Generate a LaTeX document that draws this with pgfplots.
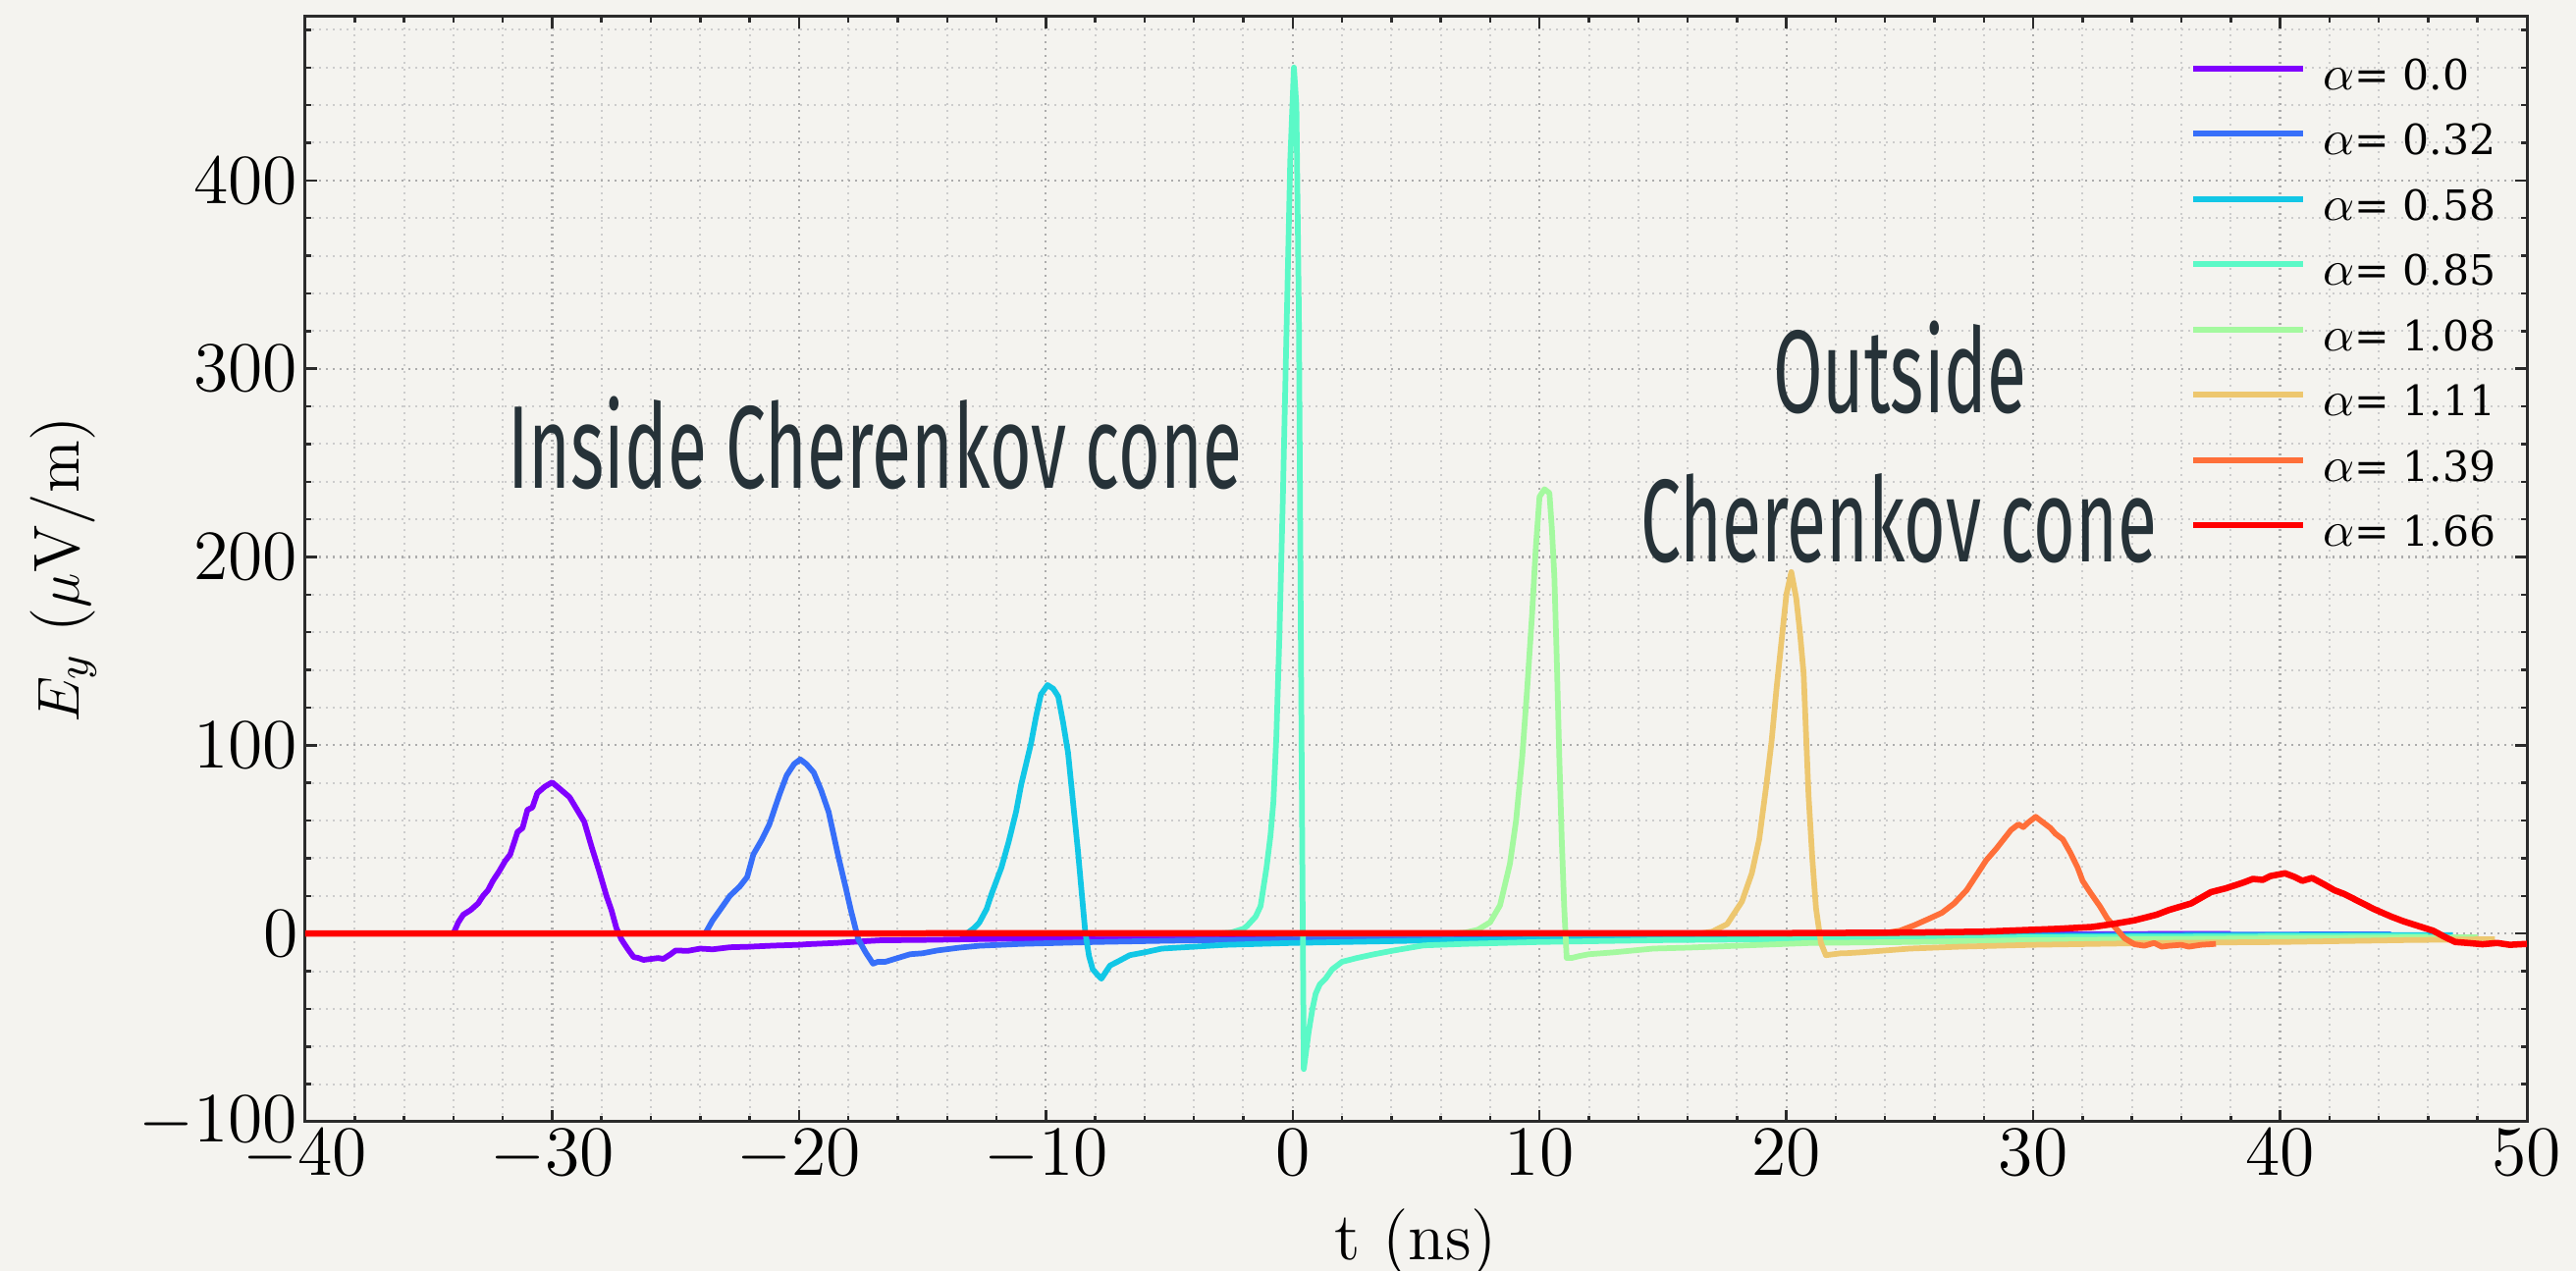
\documentclass[border=0pt]{standalone}
\usepackage{fontspec}
\usepackage{pgfplots}
\pgfplotsset{compat=1.18}
\usetikzlibrary{backgrounds}

\newfontfamily\annotfont[FakeStretch=0.61]{Fira Sans}
\newfontfamily\legfont{DejaVu Serif}

\definecolor{bgc}{HTML}{F4F3EF}
\definecolor{annotc}{HTML}{263238}
\definecolor{axc}{HTML}{2B2B2B}
% rainbow colormap sampled at eight equally spaced points
\definecolor{c0}{RGB}{128,0,255}
\definecolor{c1}{RGB}{55,111,249}
\definecolor{c2}{RGB}{18,199,230}
\definecolor{c3}{RGB}{91,249,199}
\definecolor{c4}{RGB}{164,249,159}
\definecolor{c5}{RGB}{237,199,111}
\definecolor{c6}{RGB}{255,111,57}
\definecolor{c7}{RGB}{255,0,0}

\newcommand\al{{\fontsize{10.4}{11}\selectfont$\alpha$}}

\begin{document}
\begin{tikzpicture}
\begin{axis}[
  scale only axis,
  width=452.6pt, height=225.2pt,
  xmin=-40, xmax=50, ymin=-100, ymax=487,
  xtick distance=10, ytick distance=100,
  minor tick num=4,
  tick align=inside,
  major tick length=2.4pt, minor tick length=1.2pt,
  every tick/.style={axc, line width=0.5pt},
  axis line style={axc, line width=0.6pt},
  grid=both,
  major grid style={densely dotted, gray!65, line width=0.45pt},
  minor grid style={densely dotted, gray!40, line width=0.4pt},
  tick label style={font=\fontsize{15.5}{18}\selectfont},
  xticklabel style={yshift=2pt},
  yticklabel style={xshift=2pt},
  xlabel={t (ns)},
  ylabel={$E_y$ ($\mu$V/m)},
  xlabel style={font=\fontsize{13.8}{16}\selectfont,
    at={(axis description cs:0.5,0)}, anchor=center, yshift=-24.6pt},
  ylabel style={font=\fontsize{13.2}{16}\selectfont,
    at={(axis description cs:-0.1087,0.5)}, anchor=center},
  legend style={draw=none, fill=none, at={(rel axis cs:0.848,0.966)}, anchor=north west,
    inner sep=0pt, row sep=4.3pt, column sep=3.4pt,
    font=\legfont\fontsize{8.5}{10}\selectfont,
    nodes={inner sep=0pt, text height=7pt, text depth=2pt}},
  legend cell align=left,
  legend image code/.code={\draw[#1] (0pt,1.8pt) -- (22.4pt,1.8pt);},
  every axis plot/.append style={line width=1.15pt, line join=round},
]

% alpha = 0.0
\addplot[c0] coordinates {
(-34.0,0) (-33.8,6) (-33.6,10) (-33.3,12.5) (-33.0,16) (-32.8,20) (-32.6,23)
(-32.4,28) (-32.15,33) (-31.9,38.6) (-31.7,42) (-31.4,54) (-31.2,56) (-31.0,65.7)
(-30.8,67) (-30.6,74.6) (-30.3,78) (-30.0,80.3) (-29.7,77) (-29.3,72.5) (-29.0,66)
(-28.7,59.4) (-28.4,46) (-28.1,33.4) (-27.8,20) (-27.6,12.5) (-27.4,3) (-27.2,-3)
(-26.95,-8) (-26.7,-12.5) (-26.5,-13) (-26.3,-14) (-26.0,-13.5) (-25.7,-13)
(-25.5,-13.5) (-25.2,-11) (-25.0,-9) (-24.5,-9.2) (-24.0,-8) (-23.5,-8.4)
(-22.8,-7.3) (-22,-7) (-21,-6.4) (-20,-6) (-19.7,-5.7) (-18.5,-5) (-17.5,-4.2)
(-16.7,-3.6) (-15,-3.4) (-12.9,-3) (-10,-2.5) (-5,-1.8) (0,-1.3) (10,-0.8)
(20,-0.5) (30,-0.3) (38,-0.2)
};
\addlegendentry{\al= 0.0}

% alpha = 0.32
\addplot[c1] coordinates {
(-23.8,0) (-23.5,7) (-23.2,12.5) (-22.8,20) (-22.4,25) (-22.1,30) (-21.85,42)
(-21.5,50) (-21.2,58) (-20.8,73.5) (-20.5,84) (-20.2,90) (-19.95,92.5) (-19.7,90)
(-19.4,85.5) (-19.1,76) (-18.8,64.6) (-18.4,40.6) (-18.1,24) (-17.9,12.5)
(-17.6,-3) (-17.3,-10) (-17.0,-16) (-16.8,-15) (-16.5,-15) (-16,-13) (-15.5,-11)
(-15,-10.5) (-14.4,-9) (-13.5,-7.5) (-12.7,-6.5) (-11,-5.5) (-8,-4.5) (-5,-3.8)
(0,-3) (5,-2.4) (10,-2) (20,-1.3) (30,-0.8) (44.5,-0.4)
};
\addlegendentry{\al= 0.32}

% alpha = 0.58
\addplot[c2] coordinates {
(-13.2,0) (-12.9,3) (-12.7,5.7) (-12.4,13) (-12.2,21) (-11.8,35) (-11.5,49)
(-11.2,65) (-11.0,79) (-10.8,90) (-10.6,101) (-10.4,115) (-10.2,127) (-9.93,132)
(-9.7,130) (-9.5,126) (-9.3,112) (-9.1,96) (-8.9,70) (-8.7,44) (-8.55,22)
(-8.4,0.5) (-8.25,-12) (-8.1,-19) (-7.9,-22) (-7.75,-24) (-7.6,-21) (-7.4,-17)
(-7.1,-15) (-6.6,-11.5) (-6.0,-10) (-5.3,-8) (-4,-7) (-2.7,-6) (0,-5) (5,-3.8)
(10,-3) (20,-2) (30,-1.4) (40,-1) (47,-0.8)
};
\addlegendentry{\al= 0.58}

% alpha = 0.85
\addplot[c3] coordinates {
(-8,0) (-3,0) (-2.5,0.5) (-2,2.5) (-1.85,4) (-1.5,9) (-1.3,14.6) (-1.06,35)
(-0.9,52) (-0.78,70) (-0.66,105) (-0.54,157) (-0.4,230) (-0.25,320) (-0.1,410)
(0.05,460) (0.15,440) (0.25,330) (0.33,160) (0.4,20) (0.45,-72) (0.55,-62)
(0.65,-52) (0.8,-40) (0.93,-32) (1.1,-27) (1.33,-24) (1.6,-19) (2.0,-15)
(2.6,-13) (3.3,-11) (4.1,-9) (5.3,-6.3) (7,-5.5) (10,-4.5) (15,-3.5) (20,-3)
(30,-2) (40,-1.5) (46,-1.3)
};
\addlegendentry{\al= 0.85}

% alpha = 1.08
\addplot[c4] coordinates {
(0,0) (6.5,0) (7,0.5) (7.5,2) (8.0,6) (8.4,15) (8.8,37) (9.05,60) (9.3,94)
(9.5,130) (9.7,170) (9.85,205) (10.0,232) (10.2,236) (10.4,234) (10.5,215)
(10.6,190) (10.7,145) (10.8,94) (10.9,50) (11.0,14) (11.1,-13) (11.3,-13)
(11.6,-12) (12.0,-11) (13,-10) (14.6,-8) (16,-7.5) (18,-6.5) (21,-5) (25,-4.5)
(30,-3.5) (40,-2.5) (48,-2)
};
\addlegendentry{\al= 1.08}

% alpha = 1.11
\addplot[c5] coordinates {
(10,0) (16.5,0) (17,1) (17.6,5) (18.2,17) (18.6,32) (18.9,50) (19.2,80)
(19.4,102) (19.6,130) (19.8,155) (20.0,180) (20.2,192) (20.4,178) (20.55,160)
(20.7,138) (20.8,105) (20.9,73) (21.05,40) (21.2,13.5) (21.4,-5) (21.6,-11.5)
(21.9,-11) (22.2,-10.5) (22.5,-10.4) (23,-10) (24,-9) (25,-8) (27,-7) (30,-6)
(35,-5) (40,-4.5) (45,-3.5) (48.7,-3)
};
\addlegendentry{\al= 1.11}

% alpha = 1.39
\addplot[c6] coordinates {
(20,0) (24.0,0.3) (24.6,1.5) (25.2,4.5) (25.8,8) (26.3,11) (26.8,16) (27.3,23)
(27.7,31) (28.1,39) (28.5,45) (28.8,50) (29.1,55) (29.4,58) (29.6,56.5)
(29.8,59) (30.1,62) (30.4,59) (30.7,56) (30.9,53) (31.2,50) (31.5,43) (31.8,35)
(32.0,28) (32.3,22) (32.7,14.5) (33.0,8) (33.4,2) (33.7,-2.5) (34.1,-5.7)
(34.5,-6.5) (34.9,-5) (35.2,-7) (35.5,-6.5) (36,-6) (36.3,-7) (36.8,-6) (37.4,-5.5)
};
\addlegendentry{\al= 1.39}

% alpha = 1.66
\addplot[c7, line width=1.3pt] coordinates {
(-40,0) (20,0.2) (25,0.5) (28,1) (30,2) (31,2.5) (32.4,3.5) (33.2,5) (34.1,7)
(35,10) (35.5,12.5) (36.4,16) (37.2,22) (37.8,24) (38.5,27) (38.9,29)
(39.3,28.5) (39.6,30.5) (40.2,32) (40.6,30) (40.9,28) (41.3,29.5) (41.8,26)
(42.2,23) (42.6,21) (43.2,17) (43.8,13) (44.5,9) (45.0,6.5) (45.6,4) (46.2,1.5)
(46.7,-2) (47.1,-4.5) (47.6,-5) (48.2,-5.7) (48.8,-5) (49.3,-6) (50,-5.5)
};
\addlegendentry{\al= 1.66}

% region annotations
\node[anchor=base, text=annotc, font=\annotfont\fontsize{24}{28}\selectfont]
  at (axis cs:-16.93,236.7) {Inside Cherenkov cone};
\node[anchor=base, text=annotc, font=\annotfont\fontsize{24}{28}\selectfont]
  at (axis cs:24.6,276.8) {Outside};
\node[anchor=base, text=annotc, font=\annotfont\fontsize{24}{28}\selectfont]
  at (axis cs:24.55,197.6) {Cherenkov cone};

\coordinate (sw) at (rel axis cs:0,0);
\end{axis}
\pgfresetboundingbox
\path[use as bounding box] ([shift={(-62.2pt,-30.4pt)}]sw) rectangle ++(524.8pt,259pt);
\begin{scope}[on background layer]
\fill[bgc] ([shift={(-62.2pt,-30.4pt)}]sw) rectangle ++(524.8pt,259pt);
\end{scope}
\end{tikzpicture}
\end{document}
